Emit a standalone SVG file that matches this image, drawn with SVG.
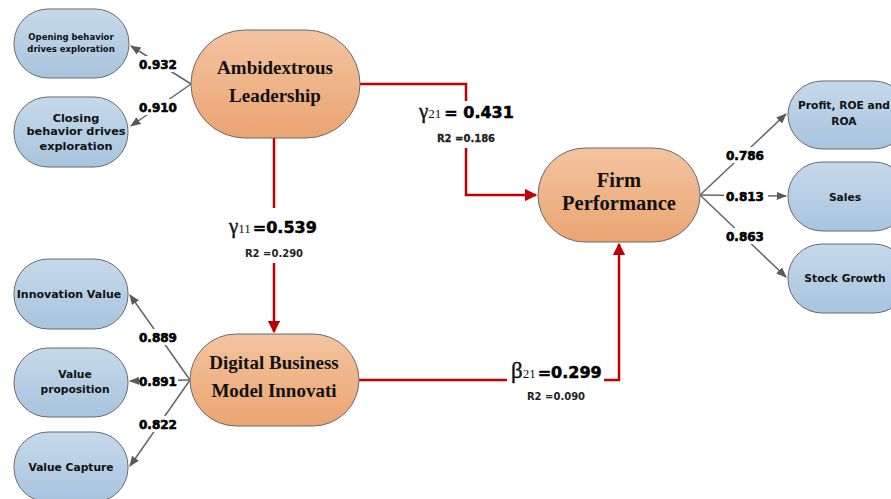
<svg xmlns="http://www.w3.org/2000/svg" width="891" height="499" viewBox="0 0 891 499">
<defs>
<linearGradient id="og" x1="0" y1="0" x2="0" y2="1"><stop offset="0" stop-color="#f3c4a0"/><stop offset="1" stop-color="#eba472"/></linearGradient>
<linearGradient id="bg" x1="0" y1="0" x2="0" y2="1"><stop offset="0" stop-color="#c6d9eb"/><stop offset="1" stop-color="#a8c4de"/></linearGradient>
<marker id="ga" viewBox="0 0 10 10" refX="9" refY="5" markerWidth="7" markerHeight="7" orient="auto"><path d="M0,1 L10,5 L0,9 z" fill="#595959"/></marker>
<marker id="ra" viewBox="0 0 10 10" refX="9" refY="5" markerWidth="5" markerHeight="5" orient="auto"><path d="M0,0 L10,5 L0,10 z" fill="#c00000"/></marker>
</defs>
<style>
.on{fill:url(#og);stroke:#6b6b6b;stroke-width:1}
.bn{fill:url(#bg);stroke:#6b6b6b;stroke-width:1}
.ot{font-family:"Liberation Serif",serif;font-weight:bold;font-size:19px;fill:#111;text-anchor:middle}
.bt{font-family:"DejaVu Sans",sans-serif;font-weight:bold;font-size:10.7px;fill:#111;text-anchor:middle}
.gl{stroke:#666;stroke-width:1.5;fill:none;marker-end:url(#ga)}
.rl{stroke:#c00000;stroke-width:2.5;fill:none}
.num{font-family:"DejaVu Sans",sans-serif;font-weight:bold;font-size:12px;fill:#000;stroke:#000;stroke-width:0.6;text-anchor:middle}
.gk{font-family:"Liberation Serif",serif;font-size:21px;fill:#111;stroke:#111;stroke-width:0.4}
.sub{font-family:"Liberation Serif",serif;font-size:13px;fill:#111}
.bv{font-family:"DejaVu Sans",sans-serif;font-weight:bold;font-size:16px;fill:#000;stroke:#000;stroke-width:0.5}
.r2{font-family:"DejaVu Sans",sans-serif;font-weight:bold;font-size:10px;fill:#222;text-anchor:middle}
</style>
<g id="connectors">
<line class="gl" x1="191" y1="84" x2="131" y2="46"/>
<line class="gl" x1="191" y1="84" x2="131" y2="126"/>
<line class="gl" x1="700" y1="195" x2="786" y2="114"/>
<line class="gl" x1="700" y1="195" x2="786" y2="196"/>
<line class="gl" x1="700" y1="195" x2="786" y2="277"/>
<line class="gl" x1="190" y1="380" x2="130" y2="295"/>
<line class="gl" x1="190" y1="380" x2="130" y2="381"/>
<line class="gl" x1="190" y1="380" x2="130" y2="466"/>
<path class="rl" d="M360,84 H466 V101"/>
<path class="rl" d="M466,148 V195 H536" marker-end="url(#ra)"/>
<path class="rl" d="M274,138 V208"/>
<path class="rl" d="M274,263 V332" marker-end="url(#ra)"/>
<path class="rl" d="M359,380 H507"/>
<path class="rl" d="M604,380 H619 V244" marker-end="url(#ra)"/>
<rect x="132" y="56" width="50" height="16" fill="#fff"/>
<rect x="132" y="99" width="50" height="16" fill="#fff"/>
<rect x="722" y="147" width="46" height="16" fill="#fff"/>
<rect x="724" y="188" width="44" height="16" fill="#fff"/>
<rect x="722" y="228" width="46" height="16" fill="#fff"/>
<rect x="136" y="329" width="44" height="16" fill="#fff"/>
<rect x="140" y="373" width="38" height="16" fill="#fff"/>
<rect x="136" y="416" width="44" height="16" fill="#fff"/>
<text class="num" x="158" y="69">0.932</text>
<text class="num" x="158" y="112">0.910</text>
<text class="num" x="745" y="160">0.786</text>
<text class="num" x="745" y="201">0.813</text>
<text class="num" x="745" y="241">0.863</text>
<text class="num" x="158" y="342">0.889</text>
<text class="num" x="158" y="386">0.891</text>
<text class="num" x="158" y="429">0.822</text>
<text x="419" y="118"><tspan class="gk">γ</tspan><tspan class="sub">21</tspan><tspan class="bv" dx="3">= 0.431</tspan></text>
<text class="r2" x="466" y="142" style="stroke:#222;stroke-width:0.3">R2 =0.186</text>
<text x="229" y="233"><tspan class="gk">γ</tspan><tspan class="sub">11</tspan><tspan class="bv" dx="2">=0.539</tspan></text>
<text class="r2" x="274" y="257">R2 =0.290</text>
<text x="511" y="378"><tspan class="gk" style="font-size:23px">β</tspan><tspan class="sub">21</tspan><tspan class="bv" dx="2">=0.299</tspan></text>
<text class="r2" x="556" y="400">R2 =0.090</text>
</g>
<g id="ambi"><rect class="on" x="191" y="30" width="169" height="108" rx="54"/><text class="ot" x="275" y="74">Ambidextrous</text><text class="ot" x="275" y="102">Leadership</text></g>
<g id="firm"><rect class="on" x="538" y="148" width="162" height="94" rx="47"/><text class="ot" x="619" y="187" style="font-size:20.5px">Firm</text><text class="ot" x="619" y="210" style="font-size:20.5px">Performance</text></g>
<g id="dbmi"><rect class="on" x="190" y="334" width="169" height="92" rx="46"/><text class="ot" x="274" y="369">Digital Business</text><text class="ot" x="274" y="397">Model Innovati</text></g>
<g id="opening"><rect class="bn" x="14" y="9" width="115" height="69" rx="34"/><text class="bt" x="71" y="40" style="font-size:8.5px">Opening behavior</text><text class="bt" x="71" y="52" style="font-size:8.5px">drives exploration</text></g>
<g id="closing"><rect class="bn" x="14" y="97" width="114" height="70" rx="34"/><text class="bt" x="76" y="122" style="font-size:11.3px">Closing</text><text class="bt" x="76" y="135" style="font-size:11.3px">behavior drives</text><text class="bt" x="76" y="150" style="font-size:11.3px">exploration</text></g>
<g id="profit"><rect class="bn" x="788" y="81" width="120" height="68" rx="34"/><text class="bt" x="844" y="109">Profit, ROE and</text><text class="bt" x="844" y="125">ROA</text></g>
<g id="sales"><rect class="bn" x="788" y="162" width="120" height="69" rx="34"/><text class="bt" x="845" y="201">Sales</text></g>
<g id="stock"><rect class="bn" x="788" y="244" width="120" height="69" rx="34"/><text class="bt" x="845" y="282">Stock Growth</text></g>
<g id="innov"><rect class="bn" x="14" y="259" width="114" height="70" rx="34"/><text class="bt" x="69" y="298" style="font-size:11px">Innovation Value</text></g>
<g id="vprop"><rect class="bn" x="14" y="348" width="114" height="69" rx="34"/><text class="bt" x="75" y="378">Value</text><text class="bt" x="75" y="393">proposition</text></g>
<g id="vcap"><rect class="bn" x="14" y="432" width="114" height="70" rx="34"/><text class="bt" x="71" y="471">Value Capture</text></g>
</svg>
